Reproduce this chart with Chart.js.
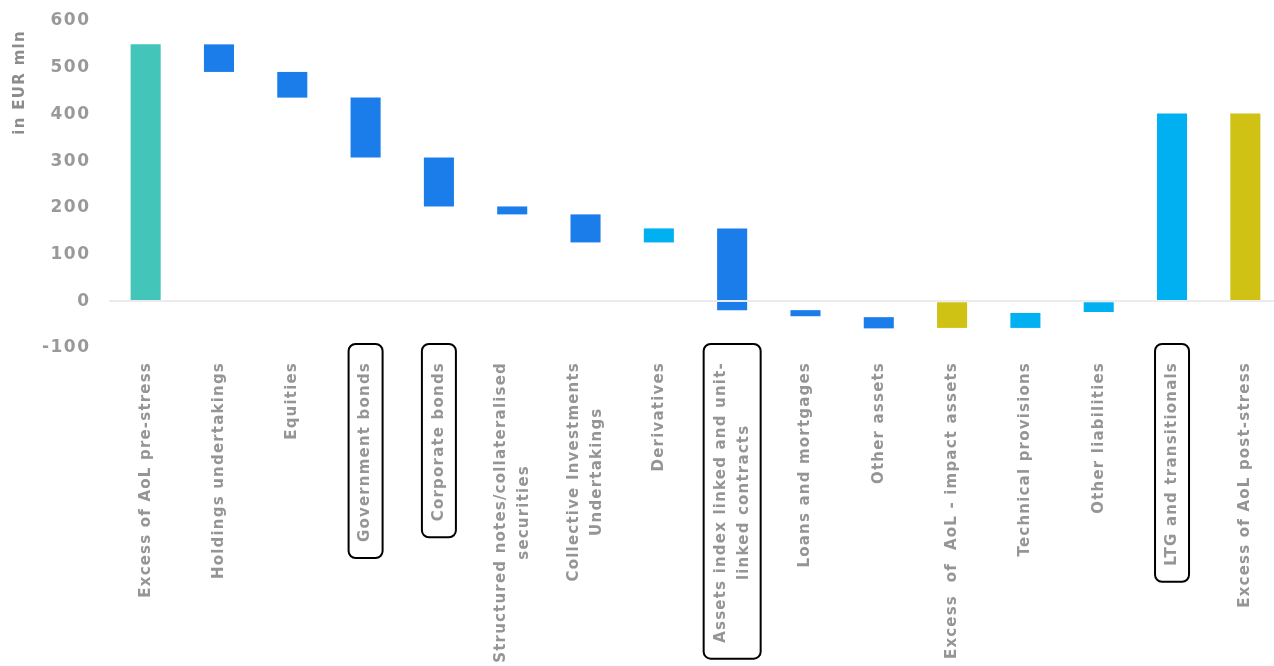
<!DOCTYPE html>
<html>
<head>
<meta charset="utf-8">
<script src="https://cdn.jsdelivr.net/npm/chart.js@4/dist/chart.umd.min.js"></script>
<style>
  html, body { margin: 0; padding: 0; background: #fff; overflow: hidden; }
  #wrap { width: 1282px; height: 666px; }
</style>
</head>
<body>
<div id="wrap"><canvas id="waterfall"></canvas></div>
<script>
// categories (multi-line labels as arrays)
let categories = [
    'Excess of AoL pre-stress',
    'Holdings undertakings',
    'Equities',
    'Government bonds',
    'Corporate bonds',
    ['Structured notes/collateralised', 'securities'],
    ['Collective Investments', 'Undertakings'],
    'Derivatives',
    ['Assets index linked and unit-', 'linked contracts'],
    'Loans and mortgages',
    'Other assets',
    'Excess  of  AoL - impact assets',
    'Technical provisions',
    'Other liabilities',
    'LTG and transitionals',
    'Excess of AoL post-stress'
];
// floating bar bottoms and tops (EUR mln)
let lows  = [0, 491, 436, 308, 203, 186, 126, 126, -19, -32, -58, -57, -57, -23, 0, 0];
let highs = [550, 550, 491, 436, 308, 203, 186, 156, 156, -19, -34, 0, -25, 0, 402, 402];
let yTicks = [-100, 0, 100, 200, 300, 400, 500, 600];
let yTitle = 'in EUR mln';
let boxed = [3, 4, 8, 14];

let teal = '#43c6b9', blue = '#1a7de9', light = '#00b0f0', olive = '#cfc215';
let colors = [teal, blue, blue, blue, blue, blue, blue, light, blue, blue, blue, olive, light, light, light, olive];

let labelFont = 'bold 15px "DejaVu Sans"';
let labelColor = '#959595';

// wider spacing for the y tick numbers (drawn after the bars, z:1)
let spacingPlugin = {
    id: 'spacing',
    beforeDraw(chart) { chart.ctx.letterSpacing = '0px'; },
    afterDatasetsDraw(chart) { chart.ctx.letterSpacing = '1.5px'; }
};

// draws the axis title, the rotated category labels and the boxes
let labelPlugin = {
    id: 'labels',
    afterDraw(chart) {
        let ctx = chart.ctx;
        let xs = chart.scales.x;
        let top = 362;
        let lh = 23;
        ctx.save();
        ctx.letterSpacing = '1.3px';
        ctx.font = 'bold 15px "DejaVu Sans"';
        ctx.fillStyle = '#8c8c8c';
        ctx.textBaseline = 'middle';
        ctx.textAlign = 'right';
        ctx.translate(20, 30);
        ctx.rotate(-Math.PI / 2);
        ctx.fillText(yTitle, 0, 0);
        ctx.restore();

        ctx.save();
        ctx.font = labelFont;
        ctx.letterSpacing = '1.2px';
        ctx.fillStyle = labelColor;
        ctx.textBaseline = 'middle';
        ctx.textAlign = 'center';
        categories.forEach(function(lab, i){
            let lines = Array.isArray(lab) ? lab : [lab];
            let cx = xs.getPixelForValue(i);
            let w = Math.max.apply(null, lines.map(l => ctx.measureText(l).width));
            ctx.save();
            ctx.translate(cx, top);
            ctx.rotate(-Math.PI / 2);
            lines.forEach(function(l, j){
                ctx.fillText(l, -w / 2, (j - (lines.length - 1) / 2) * lh);
            });
            ctx.restore();
            if (boxed.indexOf(i) >= 0){
                let half = (lines.length - 1) * lh / 2 + 17;
                ctx.save();
                ctx.strokeStyle = '#000';
                ctx.lineWidth = 2;
                ctx.beginPath();
                ctx.roundRect(cx - half, top - 18, half * 2, w + 34, 7);
                ctx.stroke();
                ctx.restore();
            }
        });
        ctx.restore();
    }
};

let chart = new Chart(document.querySelector('#waterfall').getContext('2d'), {
    type: 'bar',
    data: {
        labels: categories,
        datasets: [{
            data: lows.map((v, i) => [v, highs[i]]),
            backgroundColor: colors,
            borderSkipped: false,
            barPercentage: 0.41,
            categoryPercentage: 1
        }]
    },
    options: {
        responsive: true,
        maintainAspectRatio: false,
        animation: false,
        layout: { padding: { top: 21, bottom: 318, left: 0, right: 0 } },
        plugins: { legend: { display: false }, tooltip: { enabled: false } },
        scales: {
            x: { display: false },
            y: {
                min: -100,
                max: 600,
                afterFit: function(scale){ scale.width = 109; },
                afterBuildTicks: function(scale){ scale.ticks = yTicks.map(v => ({ value: v })); },
                border: { display: false },
                grid: {
                    z: 1,
                    drawTicks: false,
                    color: ctx => ctx.tick && ctx.tick.value === 0 ? '#ebebeb' : 'rgba(0,0,0,0)',
                    lineWidth: 2
                },
                ticks: {
                    z: 1,
                    padding: 18.5,
                    color: '#999',
                    font: { family: 'DejaVu Sans', size: 17, weight: 'bold', lineHeight: 0.1 }
                },
                title: { display: false }
            }
        }
    },
    plugins: [spacingPlugin, labelPlugin]
});
</script>
</body>
</html>
